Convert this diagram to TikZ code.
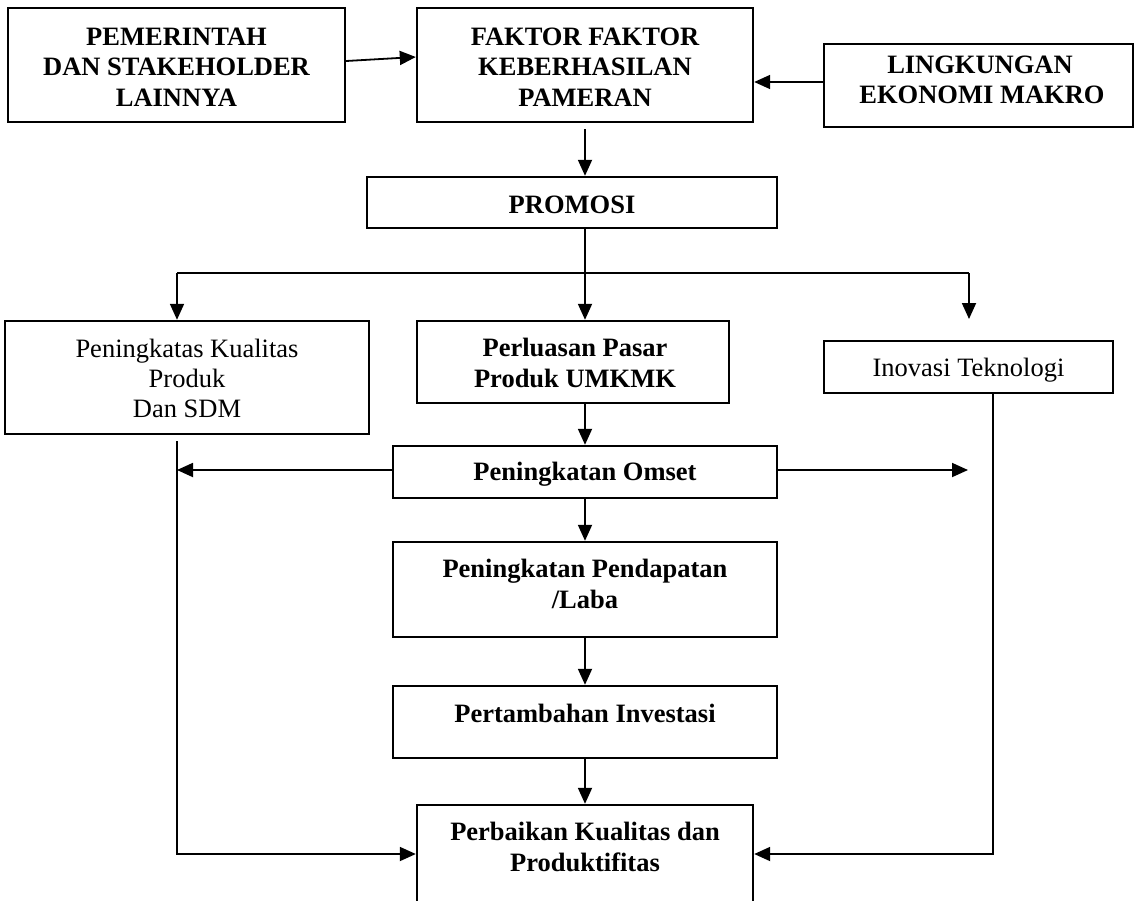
\documentclass[tikz,border=0pt]{standalone}
\usepackage{fontspec}
\setmainfont{Liberation Serif}
\usetikzlibrary{arrows.meta,calc}
\begin{document}
\begin{tikzpicture}[x=1pt,y=-1pt,
  box/.style={draw, line width=2.4pt, inner sep=0pt, rectangle},
  bt/.style={font=\fontsize{26.5}{30}\selectfont\bfseries, anchor=base, inner sep=0pt},
  rt/.style={font=\fontsize{26.5}{30}\selectfont, anchor=base, inner sep=0pt},
  conn/.style={line width=1.8pt},
  arr/.style={conn, -{Triangle[length=16pt,width=14pt]}}]
\useasboundingbox (0,0) rectangle (1135,900);
\clip (0,0) rectangle (1135,900);

% boxes
\node[box, minimum width=337pt, minimum height=114pt] (b1) at (176.5,65) {};
\node[box, minimum width=336pt, minimum height=114pt] (b2) at (585,65) {};
\node[box, minimum width=309pt, minimum height=83pt] (b3) at (978.5,85.5) {};
\node[box, minimum width=410pt, minimum height=51pt] (b4) at (572,202.5) {};
\node[box, minimum width=364pt, minimum height=113pt] (b5) at (187,377.5) {};
\node[box, minimum width=312pt, minimum height=82pt] (b6) at (573,362) {};
\node[box, minimum width=289pt, minimum height=52pt] (b7) at (968.5,367) {};
\node[box, minimum width=384pt, minimum height=52pt] (b8) at (585,472) {};
\node[box, minimum width=384pt, minimum height=95pt] (b9) at (585,589.5) {};
\node[box, minimum width=384pt, minimum height=72pt] (b10) at (585,722) {};
\node[box, minimum width=336pt, minimum height=120pt] (b11) at (585,865) {};

% texts
\node[bt] (t1a) at (176.5,45) {PEMERINTAH};
\node[bt] (t1b) at (176.5,75) {DAN STAKEHOLDER};
\node[bt] (t1c) at (176.5,106) {LAINNYA};
\node[bt] (t2a) at (585,45) {FAKTOR FAKTOR};
\node[bt] (t2b) at (585,75) {KEBERHASILAN};
\node[bt] (t2c) at (585,106) {PAMERAN};
\node[bt] (t3a) at (980,73) {LINGKUNGAN};
\node[bt] (t3b) at (982,103) {EKONOMI MAKRO};
\node[bt] (t4) at (572,213) {PROMOSI};
\node[rt] (t5a) at (187,357) {Peningkatas Kualitas};
\node[rt] (t5b) at (187,387) {Produk};
\node[rt] (t5c) at (187,417) {Dan SDM};
\node[bt] (t6a) at (575,356) {Perluasan Pasar};
\node[bt] (t6b) at (575,387) {Produk UMKMK};
\node[rt] (t7) at (968.5,376) {Inovasi Teknologi};
\node[bt] (t8) at (585,480) {Peningkatan Omset};
\node[bt] (t9a) at (585,577) {Peningkatan Pendapatan};
\node[bt] (t9b) at (585,608) {/Laba};
\node[bt] (t10) at (585,722) {Pertambahan Investasi};
\node[bt] (t11a) at (585,840) {Perbaikan Kualitas dan};
\node[bt] (t11b) at (585,871) {Produktifitas};

% connectors
\draw[arr] ($(b1.east)+(0,-4)$) -- ($(b2.west)+(0,-8)$);
\draw[arr] ($(b3.west)+(0,-3.5)$) -- ($(b2.east)+(0,17)$);
\draw[arr] ($(b2.south)+(0,6)$) -- (b4.north -| b2.south);
\draw[arr] (b4.south -| b2.south) -- (b6.north -| b2.south);

\coordinate (brL) at (177,273);
\coordinate (brR) at (969,273);
\coordinate (brRend) at (969,319);
\draw[conn] (brL) -- (brR);
\draw[arr] (brL) -- (b5.north -| brL);
\draw[arr] (brR) -- (brRend);

\draw[arr] (b6.south -| b2.south) -- (b8.north);
\coordinate (omL) at (177,470);
\coordinate (omR) at (968,470);
\draw[arr] (b8.west |- omL) -- (omL);
\draw[arr] (b8.east |- omR) -- (omR);
\draw[arr] (b8.south) -- (b9.north);
\draw[arr] (b9.south) -- (b10.north);
\draw[arr] (b10.south) -- (b11.north);

\coordinate (lTop) at (177,441);
\coordinate (lBot) at (177,854);
\draw[arr] (lTop) -- (lBot) -- (b11.west |- lBot);
\coordinate (rBot) at (993,854);
\draw[arr] (b7.south -| rBot) -- (rBot) -- (b11.east |- rBot);
\end{tikzpicture}
\end{document}
